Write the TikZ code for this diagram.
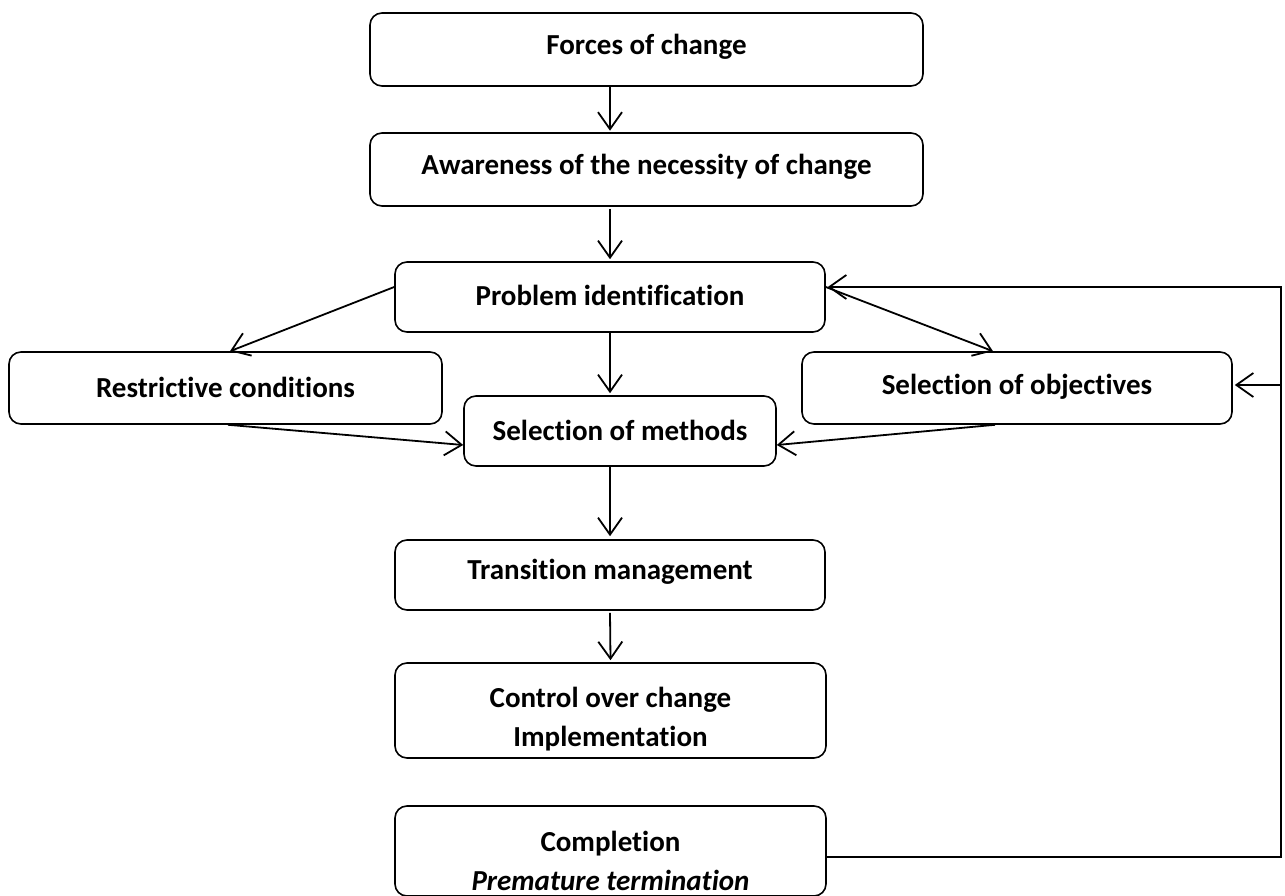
\documentclass[tikz,border=0pt]{standalone}
\usepackage{fontspec}
\setmainfont{Carlito}[Ligatures={NoCommon,NoContextual}]
\usetikzlibrary{arrows.meta}
\begin{document}
\begin{tikzpicture}[x=1pt,y=-1pt,
  line width=1.8pt,
  box/.style={draw, rounded corners=12pt, line width=1.6pt, inner sep=0pt},
  lbl/.style={font=\fontsize{29}{39}\selectfont\bfseries, align=center, inner sep=0pt},
  arr/.style={-{Straight Barb[length=17pt,width=24pt,line width=1.8pt]}}]
  \useasboundingbox (0,0) rectangle (1285,896);

  % text labels (boxes are drawn over them afterwards)
  \node[lbl] (forcesT) at (646.5,47) {Forces of change};
  \node[lbl] (awareT) at (646.5,167) {Awareness of the necessity of change};
  \node[lbl] (probT) at (610,295) {Problem identification};
  \node[lbl] (restrT) at (225.5,387) {Restrictive conditions};
  \node[lbl] (methT) at (620,430) {Selection of methods};
  \node[lbl] (objT) at (1017,387) {Selection of objectives};
  \node[lbl] (transT) at (610,572) {Transition management};
  \node[lbl] (ctrlT) at (610.5,719) {Control over change\\Implementation};
  \node[lbl] (complT) at (610.5,861) {Completion\\\itshape Premature termination};

  % boxes
  \node[box, minimum width=553pt, minimum height=73pt] (forces) at (646.5,49.5) {};
  \node[box, minimum width=553pt, minimum height=73pt] (aware) at (646.5,169.5) {};
  \node[box, minimum width=430pt, minimum height=70pt] (prob) at (610,297) {};
  \node[box, minimum width=433pt, minimum height=72pt] (restr) at (225.5,388) {};
  \node[box, minimum width=312pt, minimum height=70pt] (meth) at (620,431) {};
  \node[box, minimum width=430pt, minimum height=72pt] (obj) at (1017,388) {};
  \node[box, minimum width=430pt, minimum height=70pt] (trans) at (610,575) {};
  \node[box, minimum width=431pt, minimum height=95pt] (ctrl) at (610.5,710.5) {};
  \node[box, minimum width=431pt, minimum height=90pt] (compl) at (610.5,851) {};

  % main flow
  \draw[arr] (forces.south -| prob) -- ([yshift=1.5pt]aware.north -| prob);
  \draw[arr] ([yshift=-2pt]aware.south -| prob) -- ([yshift=2pt]prob.north);
  \draw[arr] (prob.west |- 0,287) -- (restr.north -| 230,0);
  \draw[arr] (restr.south -| 228,0) -- (meth.west |- 0,445);
  \draw[arr] (prob.south) -- ([yshift=2pt]prob.south |- meth.north);
  \draw[arr] (prob.east |- 0,287) -- (obj.north -| 993,0);
  \draw[arr] (obj.south -| 995,0) -- (meth.east |- 0,445);
  \draw[arr] (meth.south -| trans) -- ([yshift=3pt]trans.north);
  \draw[arr] ([yshift=-2pt]trans.south) -- ([yshift=2pt]ctrl.north);

  % feedback loop
  \coordinate (fbB) at (1281,857);
  \coordinate (fbO) at (1281,385);
  \coordinate (fbT) at (1281,287);
  \draw[arr] (compl.east |- fbB) -- (fbB) -- (fbT) -- ([xshift=2pt]prob.east |- fbT);
  \draw[arr] (fbO) -- ([xshift=2pt]obj.east |- fbO);
\end{tikzpicture}
\end{document}
